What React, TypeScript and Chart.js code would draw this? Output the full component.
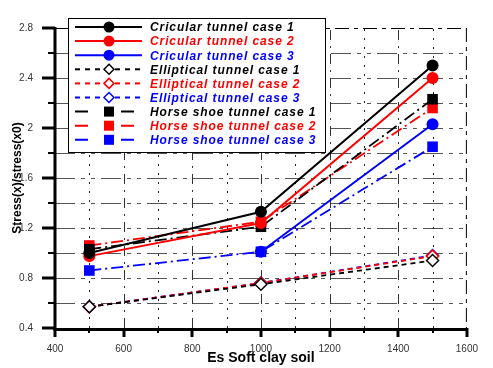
import React, { useEffect, useRef } from 'react';
import { Chart, registerables } from 'chart.js';

Chart.register(...registerables);

// ---- data ----
const xValues = [500, 1000, 1500];
const circular1 = [1.0, 1.33, 2.5];
const circular2 = [0.975, 1.24, 2.4];
const circular3 = [null, 1.01, 2.03];
const elliptical1 = [0.57, 0.75, 0.94];
const elliptical2 = [0.57, 0.76, 0.975];
const elliptical3 = [0.57, 0.76, 0.98];
const horse1 = [1.03, 1.21, 2.23];
const horse2 = [1.06, 1.25, 2.16];
const horse3 = [0.86, 1.01, 1.85];

const seriesLabels = [
  'Cricular tunnel case 1',
  'Cricular tunnel case 2',
  'Cricular tunnel case 3',
  'Elliptical tunnel case 1',
  'Elliptical tunnel case 2',
  'Elliptical tunnel case 3',
  'Horse shoe tunnel case 1',
  'Horse shoe tunnel case 2',
  'Horse shoe tunnel case 3',
];
const seriesValues = [
  circular1, circular2, circular3,
  elliptical1, elliptical2, elliptical3,
  horse1, horse2, horse3,
];
const seriesColors = ['#000000', '#ff0000', '#0000ff'];

const xAxisTitle = 'Es Soft clay soil';
const yAxisTitle = 'Stress(x)/stress(x0)';
const xMin = 400, xMax = 1600, xMajor = 200, xMinor = 100;
const yMin = 0.4, yMax = 2.8, yMajor = 0.4, yMinor = 0.2;

const FONT = "'Liberation Sans', Arial, sans-serif";

type Kind = 'circ' | 'ell' | 'horse';
const kindOf = (i: number): Kind => (i < 3 ? 'circ' : i < 6 ? 'ell' : 'horse');
const dashOf = (k: Kind): number[] => (k === 'circ' ? [] : k === 'ell' ? [5, 4] : [12, 4, 2, 4]);

function drawMarker(ctx: CanvasRenderingContext2D, kind: Kind, x: number, y: number, color: string) {
  ctx.save();
  ctx.setLineDash([]);
  if (kind === 'circ') {
    ctx.fillStyle = color;
    ctx.beginPath();
    ctx.arc(x, y, 5.5, 0, Math.PI * 2);
    ctx.fill();
  } else if (kind === 'horse') {
    ctx.fillStyle = color;
    ctx.fillRect(x - 5, y - 5, 10, 10);
  } else {
    ctx.fillStyle = '#fff';
    ctx.strokeStyle = color;
    ctx.lineWidth = 1.5;
    ctx.beginPath();
    ctx.moveTo(x - 5, y);
    ctx.lineTo(x, y - 5);
    ctx.lineTo(x + 5, y);
    ctx.lineTo(x, y + 5);
    ctx.closePath();
    ctx.fill();
    ctx.stroke();
  }
  ctx.restore();
}

const decorPlugin = {
  id: 'decor',
  beforeDatasetsDraw(chart: any) {
    const { ctx, chartArea, scales } = chart;
    const { left, right, top, bottom } = chartArea;
    const xs = scales.x, ys = scales.y;
    ctx.save();
    ctx.lineWidth = 1;
    // horizontal grid
    ctx.strokeStyle = '#555';
    ctx.setLineDash([20, 6, 4, 6, 4, 6]);
    for (let v = yMin + yMinor; v < yMax - 1e-6; v += yMinor) {
      const py = Math.round(ys.getPixelForValue(v)) + 0.5;
      ctx.beginPath();
      ctx.moveTo(left, py);
      ctx.lineTo(right, py);
      ctx.stroke();
    }
    // vertical grid
    for (let v = xMin + xMinor; v < xMax - 1e-6; v += xMinor) {
      const px = Math.round(xs.getPixelForValue(v)) + 0.5;
      const major = Math.abs((v - xMin) % xMajor) < 1e-6;
      ctx.setLineDash(major ? [10, 6, 2, 6] : [2, 7]);
      ctx.strokeStyle = major ? '#333' : '#222';
      ctx.beginPath();
      ctx.moveTo(px, bottom);
      ctx.lineTo(px, top);
      ctx.stroke();
    }
    // frame top / right
    ctx.strokeStyle = '#000';
    ctx.setLineDash([14, 5, 4, 5]);
    ctx.beginPath();
    ctx.moveTo(left, top + 0.5);
    ctx.lineTo(right, top + 0.5);
    ctx.stroke();
    ctx.beginPath();
    ctx.moveTo(right - 0.5, top);
    ctx.lineTo(right - 0.5, bottom);
    ctx.stroke();
    ctx.restore();
  },
  afterDatasetsDraw(chart: any) {
    const { ctx, chartArea, scales } = chart;
    const { left, right, top, bottom } = chartArea;
    const xs = scales.x, ys = scales.y;
    ctx.save();
    ctx.setLineDash([]);
    ctx.strokeStyle = '#000';
    // axis lines
    ctx.lineWidth = 3;
    ctx.beginPath();
    ctx.moveTo(left, top - 1);
    ctx.lineTo(left, bottom + 1.5);
    ctx.lineTo(right + 1, bottom + 1.5);
    ctx.stroke();
    // y ticks
    for (let v = yMin; v <= yMax + 1e-6; v += yMinor) {
      const py = Math.round(ys.getPixelForValue(v));
      const major = Math.abs(Math.round((v - yMin) / yMinor) % 2) === 0;
      ctx.lineWidth = major ? 3 : 2;
      ctx.beginPath();
      ctx.moveTo(left - (major ? 13 : 7), py);
      ctx.lineTo(left, py);
      ctx.stroke();
    }
    // x ticks
    for (let v = xMin; v <= xMax + 1e-6; v += xMinor) {
      const px = Math.round(xs.getPixelForValue(v));
      const major = Math.abs((v - xMin) % xMajor) < 1e-6;
      ctx.lineWidth = major ? 3 : 2;
      ctx.beginPath();
      ctx.moveTo(px, bottom);
      ctx.lineTo(px, bottom + (major ? 9 : 5));
      ctx.stroke();
    }
    // legend
    const lx = 68, ly = 18, lw = 257, lh = 134;
    ctx.fillStyle = '#fff';
    ctx.fillRect(lx, ly, lw, lh);
    ctx.lineWidth = 1;
    ctx.strokeStyle = '#000';
    ctx.strokeRect(lx + 0.5, ly + 0.5, lw, lh);
    ctx.font = `italic bold 12px ${FONT}`;
    (ctx as any).letterSpacing = '0.9px';
    ctx.textBaseline = 'middle';
    chart.data.datasets.forEach((ds: any, i: number) => {
      const k = kindOf(i);
      const color = ds.borderColor;
      const y = ly + 9 + i * 14.1;
      ctx.strokeStyle = color;
      ctx.lineWidth = 2;
      if (k === 'horse') {
        ctx.setLineDash([]);
        ctx.beginPath();
        ctx.moveTo(75, y); ctx.lineTo(88, y);
        ctx.moveTo(121, y); ctx.lineTo(134, y);
        ctx.stroke();
      } else {
        ctx.setLineDash(k === 'ell' ? [5, 5] : []);
        ctx.beginPath();
        ctx.moveTo(75, y);
        ctx.lineTo(142, y);
        ctx.stroke();
      }
      ctx.setLineDash([]);
      drawMarker(ctx, k, 109, y, color);
      ctx.fillStyle = color;
      ctx.fillText(ds.label, 150, y + 1);
    });
    ctx.restore();
  },
};

export default function App() {
  const ref = useRef<HTMLCanvasElement | null>(null);
  useEffect(() => {
    document.body.style.margin = '0';
    const canvas = ref.current;
    if (!canvas) return;
    const datasets = seriesValues.map((vals, i) => {
      const k = kindOf(i);
      const color = seriesColors[i % 3];
      return {
        label: seriesLabels[i],
        data: xValues.map((x, j) => ({ x, y: vals[j] })),
        borderColor: color,
        backgroundColor: k === 'ell' ? '#ffffff' : color,
        borderWidth: k === 'circ' ? 2 : 1.8,
        borderDash: dashOf(k),
        pointStyle: k === 'circ' ? 'circle' : k === 'ell' ? 'rectRot' : 'rect',
        pointRadius: k === 'circ' ? 6 : k === 'ell' ? 6 : 7.5,
        pointBorderWidth: k === 'ell' ? 1.5 : 0,
        pointBackgroundColor: k === 'ell' ? '#ffffff' : color,
        pointBorderColor: color,
        spanGaps: false,
        tension: 0,
        fill: false,
      };
    });
    const chart = new Chart(canvas, {
      type: 'line',
      data: { datasets },
      plugins: [decorPlugin],
      options: {
        animation: false,
        responsive: false,
        maintainAspectRatio: false,
        layout: { padding: { top: 11, right: 11, left: 0, bottom: 0 } },
        plugins: { legend: { display: false }, tooltip: { enabled: false } },
        scales: {
          x: {
            type: 'linear',
            min: xMin,
            max: xMax,
            afterFit: (s: any) => { s.height = 40; },
            grid: { display: false, drawTicks: false },
            border: { display: false },
            ticks: {
              stepSize: xMajor,
              maxRotation: 0,
              autoSkip: false,
              padding: 15,
              color: '#333',
              font: { family: FONT, size: 10 },
              callback: (v: any) => String(Math.round(Number(v))),
            },
            title: {
              display: true,
              text: xAxisTitle,
              color: '#000',
              font: { family: FONT, size: 14, weight: 'bold' },
              padding: { top: 0, bottom: 1 },
            },
          },
          y: {
            type: 'linear',
            min: yMin,
            max: yMax,
            afterFit: (s: any) => { s.width = 55; },
            grid: { display: false, drawTicks: false },
            border: { display: false },
            ticks: {
              stepSize: yMajor,
              padding: 22,
              color: '#333',
              font: { family: FONT, size: 10 },
              callback: (v: any) => String(Number(Number(v).toFixed(1))),
            },
            title: {
              display: true,
              text: yAxisTitle,
              color: '#000',
              font: { family: FONT, size: 12, weight: 'bold' },
              padding: { top: 10, bottom: 0 },
            },
          },
        },
      } as any,
    });
    return () => chart.destroy();
  }, []);
  return <canvas ref={ref} width={493} height={368} style={{ display: 'block' }} />;
}
